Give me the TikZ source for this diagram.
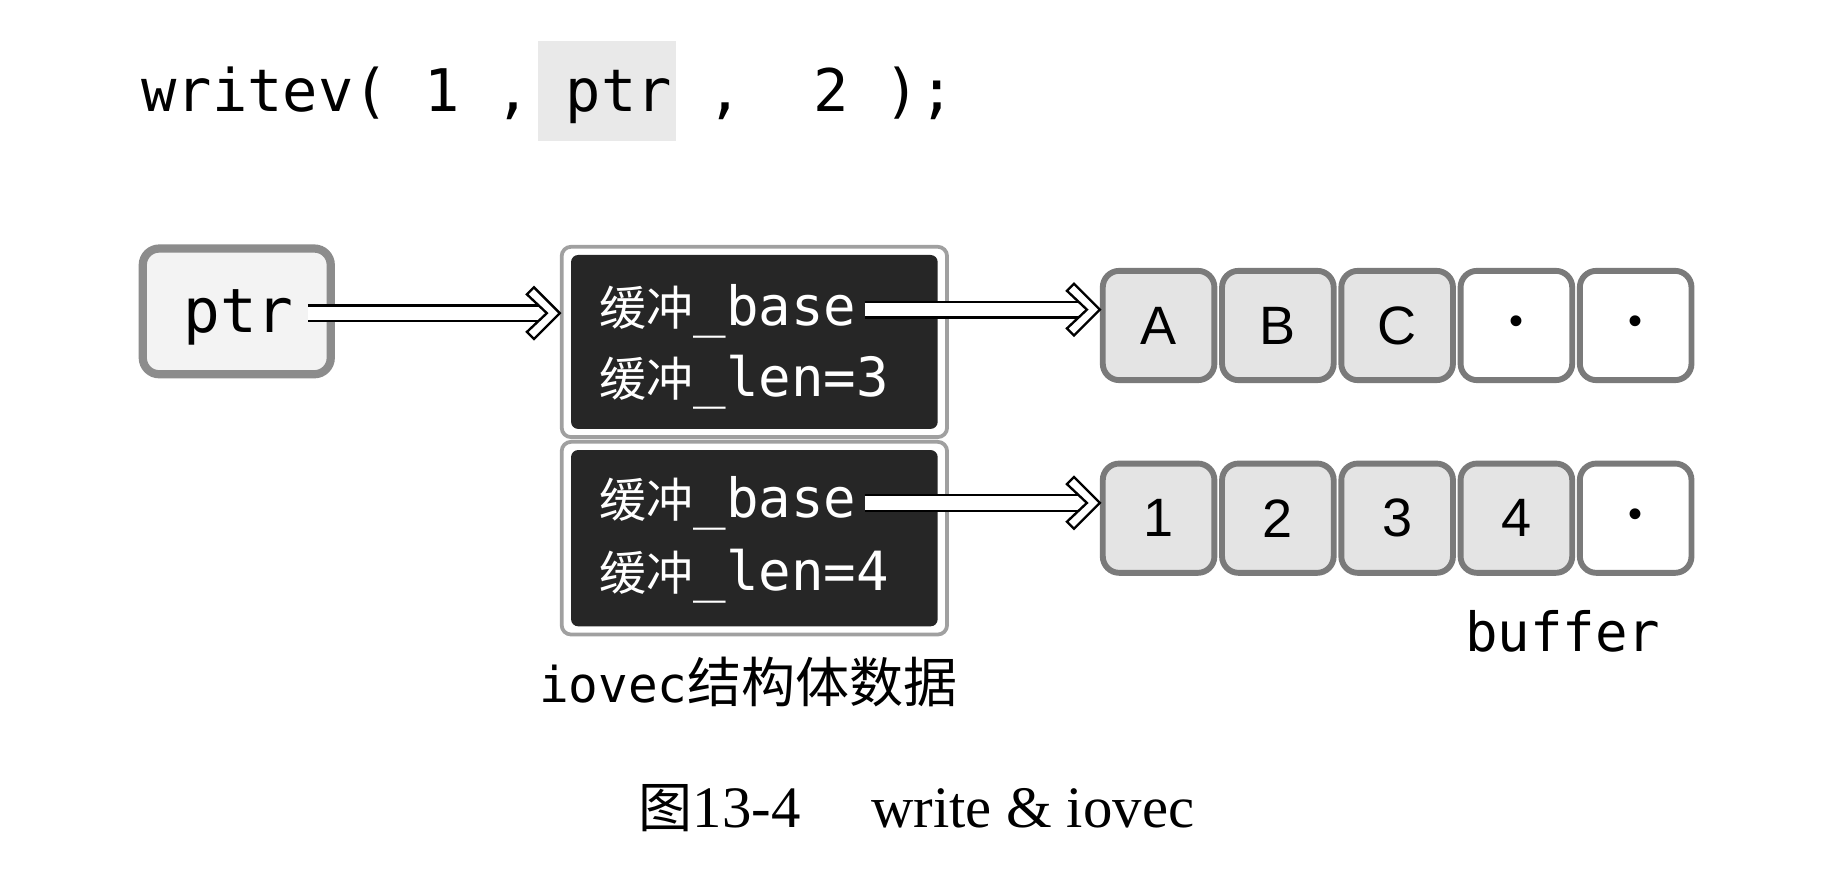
\documentclass[tikz,border=0pt]{standalone}
\usepackage{fontspec}
\setmainfont{Liberation Serif}
\setsansfont{Liberation Sans}
\setmonofont{DejaVu Sans Mono}
\newfontfamily\cjk{Noto Sans CJK SC}
\usetikzlibrary{arrows.meta}
\definecolor{boxborder}{HTML}{8C8C8C}
\definecolor{boxfill}{HTML}{F3F3F3}
\definecolor{cellborder}{HTML}{7A7A7A}
\definecolor{cellgray}{HTML}{E4E4E4}
\definecolor{structdark}{HTML}{262626}
\definecolor{structline}{HTML}{A0A0A0}
\definecolor{hlgray}{HTML}{E9E9E9}
\tikzset{
  ptrbox/.style={draw=boxborder, fill=boxfill, line width=3.5pt, rounded corners=7pt,
    minimum width=80pt, minimum height=53.5pt, inner sep=0pt},
  structouter/.style={draw=structline, fill=white, line width=1.6pt, rounded corners=4pt,
    minimum width=164pt, inner sep=0pt},
  structinner/.style={fill=structdark, rounded corners=3pt, minimum width=156pt, inner sep=0pt},
  cell/.style={draw=cellborder, line width=2.5pt, rounded corners=7pt,
    minimum width=47.5pt, minimum height=46.5pt, inner sep=0pt,
    font=\sffamily\fontsize{23}{26}\selectfont},
  fullcell/.style={cell, fill=cellgray},
  emptycell/.style={cell, fill=white},
  fieldtxt/.style={anchor=west, text=white, inner sep=0pt, font=\ttfamily\fontsize{23}{28}\selectfont},
  dblline/.style={double, double distance=5.6pt, line width=1pt, shorten >=5pt},
  chev/.pic={\draw[line width=1pt, fill=white, line join=miter]
    (0,0) -- (-22,-22) -- (-28,-16) -- (-11,0) -- (-28,16) -- (-22,22) -- cycle;},
}
\newcommand{\cj}[1]{{\cjk\fontsize{20}{24}\selectfont #1}}
\newcommand{\dotc}{{\fontsize{17}{18}\selectfont •}}
\begin{document}
\begin{tikzpicture}[x=0.5pt, y=-0.5pt]
\useasboundingbox (0,0) rectangle (1571,745);
% code line
\node[fill=hlgray, minimum width=58.5pt, minimum height=42.5pt, inner sep=0pt] (hl) at (516.5,77.5) {};
\node[anchor=base west, inner sep=0pt, font=\ttfamily\fontsize{25}{30}\selectfont] (code) at (120,95) {writev(\ 1\ ,\ ptr\ ,\ \ 2\ );};
% ptr box
\node[ptrbox] (ptrbox) at (201.5,265) {};
\node[anchor=base, inner sep=0pt, font=\ttfamily\fontsize{26}{30}\selectfont] (ptrtxt) at (203,283) {ptr};
% struct boxes
\node[structouter, minimum height=81pt] (s1) at (642,291) {};
\node[structinner, minimum height=74pt] (s1in) at (s1.center) {};
\node[structouter, minimum height=82pt] (s2) at (642,458) {};
\node[structinner, minimum height=75pt] (s2in) at (s2.center) {};
\node[fieldtxt] (b1) at (510,265) {\cj{缓冲}\_base};
\node[fieldtxt] (l1) at (510,325) {\cj{缓冲}\_len=3};
\node[fieldtxt] (b2) at (510,428) {\cj{缓冲}\_base};
\node[fieldtxt] (l2) at (510,490) {\cj{缓冲}\_len=4};
% buffer cells, row 1
\node[fullcell] (cA) at (986,277) {A};
\node[fullcell] (cB) at (1087.5,277) {B};
\node[fullcell] (cC) at (1189,277) {C};
\node[emptycell] (cD) at (1290.5,277) {\dotc};
\node[emptycell] (cE) at (1392,277) {\dotc};
% row 2
\node[fullcell] (c1) at (986,441) {1};
\node[fullcell] (c2) at (1087.5,441) {2};
\node[fullcell] (c3) at (1189,441) {3};
\node[fullcell] (c4) at (1290.5,441) {4};
\node[emptycell] (c5) at (1392,441) {\dotc};
% arrows
\coordinate (a1) at (262,266.5);
\coordinate (a2) at (736,263.5);
\coordinate (a3) at (736,428);
\draw[dblline] (a1) -- (a1 -| s1.west);
\pic at (a1 -| s1.west) {chev};
\draw[dblline] (a2) -- (a2 -| cA.west);
\pic at (a2 -| cA.west) {chev};
\draw[dblline] (a3) -- (a3 -| c1.west);
\pic at (a3 -| c1.west) {chev};
% labels
\node[inner sep=0pt, font=\ttfamily\fontsize{23}{28}\selectfont] (buf) at (1330,537) {buffer};
\node[inner sep=0pt, font=\ttfamily\fontsize{21}{26}\selectfont] (iov) at (637,580) {iovec{\cjk\fontsize{23}{26}\selectfont 结构体数据}};
\node[inner sep=0pt, font=\rmfamily\fontsize{25}{30}\selectfont] (cap) at (780,688) {{\cjk\fontsize{23}{26}\selectfont 图}13-4\hspace{1.2em}write \& iovec};
\end{tikzpicture}
\end{document}
